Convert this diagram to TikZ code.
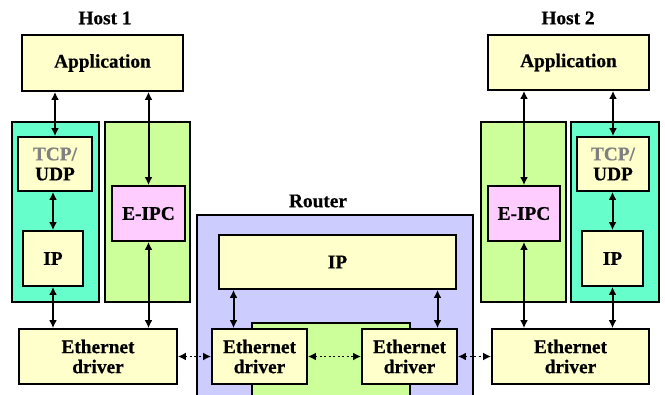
\documentclass[tikz,border=0pt]{standalone}
\usepackage{fontspec}
\newfontfamily\diagfont{Liberation Serif}[BoldFeatures={FakeBold=0.6}]
\usetikzlibrary{arrows.meta,calc}

\definecolor{boxyellow}{HTML}{FFFFCC}
\definecolor{boxteal}{HTML}{66FFCC}
\definecolor{boxgreen}{HTML}{CCFF99}
\definecolor{boxpink}{HTML}{FFCCFF}
\definecolor{boxrouter}{HTML}{CCCCFF}
\definecolor{tcpgray}{HTML}{808080}

\tikzset{
  layer/.style={draw, line width=1.4pt, fill=boxyellow, inner sep=0pt, align=center,
    font=\diagfont\fontsize{14.5}{15}\selectfont\bfseries},
  holder/.style={draw, line width=1.4pt, inner sep=0pt},
  title/.style={font=\diagfont\fontsize{14.5}{15}\selectfont\bfseries},
  link/.style={line width=1.5pt, {Latex[length=6pt,width=6pt]}-{Latex[length=6pt,width=6pt]}},
  wire/.style={line width=1.4pt, dotted, {Latex[length=6pt,width=6pt]}-{Latex[length=6pt,width=6pt]}}
}

\begin{document}
\begin{tikzpicture}[x=0.75pt, y=-0.75pt]
  \useasboundingbox (0,0) rectangle (665,394);
  \clip (0,0) rectangle (665,394);

  % titles
  \node[title] (h1) at (105,18) {Host 1};
  \node[title] (h2) at (568,18) {Host 2};
  \node[title] (rt) at (318,201) {Router};

  % containers
  \node[holder, fill=boxteal, minimum width=65.25pt, minimum height=135pt] (teal1) at (55.5,212) {};
  \node[holder, fill=boxgreen, minimum width=63.75pt, minimum height=135pt] (green1) at (147.5,212) {};
  \node[holder, fill=boxgreen, minimum width=63.75pt, minimum height=135pt] (green2) at (523.5,212) {};
  \node[holder, fill=boxteal, minimum width=66pt, minimum height=135pt] (teal2) at (615,212) {};
  \node[holder, fill=boxrouter, minimum width=207pt, minimum height=145pt] (router) at (335,311.5) {};
  \node[holder, fill=boxgreen, minimum width=118.5pt, minimum height=64pt] (rgreen) at (331,365.5) {};

  % host 1
  \node[layer, minimum width=120.75pt, minimum height=42pt] (app1) at (102.5,63) {Application};
  \node[layer, minimum width=55.5pt, minimum height=40.5pt] (tcp1) at (55,164) {{\color{tcpgray}TCP/}\\UDP};
  \node[layer, minimum width=45pt, minimum height=41.25pt] (ip1) at (53,258.5) {IP};
  \node[layer, fill=boxpink, minimum width=54.75pt, minimum height=41.25pt] (eipc1) at (148.5,213.5) {E-IPC};
  \node[layer, minimum width=118.5pt, minimum height=41.25pt] (eth1) at (98,356.5) {Ethernet\\driver};

  % router
  \node[layer, minimum width=177.75pt, minimum height=40.5pt] (rip) at (337.5,262) {IP};
  \node[layer, minimum width=71.25pt, minimum height=41.25pt] (reth1) at (259.5,356.5) {Ethernet\\driver};
  \node[layer, minimum width=71.25pt, minimum height=41.25pt] (reth2) at (409.5,356.5) {Ethernet\\driver};

  % host 2
  \node[layer, minimum width=120.75pt, minimum height=41.25pt] (app2) at (568.5,62.5) {Application};
  \node[layer, fill=boxpink, minimum width=54pt, minimum height=41.25pt] (eipc2) at (524,213.5) {E-IPC};
  \node[layer, minimum width=54pt, minimum height=40.5pt] (tcp2) at (613,164) {{\color{tcpgray}TCP/}\\UDP};
  \node[layer, minimum width=45.75pt, minimum height=41.25pt] (ip2) at (612.5,258.5) {IP};
  \node[layer, minimum width=117.75pt, minimum height=41.25pt] (eth2) at (570.5,356.5) {Ethernet\\driver};

  % host 1 links
  \draw[link] (app1.south -| tcp1.north) -- (tcp1.north);
  \draw[link] (tcp1.south -| ip1.north) -- (ip1.north);
  \draw[link] (ip1.south) -- (ip1.south |- eth1.north);
  \draw[link] (app1.south -| eipc1.north) -- (eipc1.north);
  \draw[link] (eipc1.south) -- (eipc1.south |- eth1.north);

  % router links
  \coordinate (rl) at ($(reth1.north)+(-26,0)$);
  \coordinate (rr) at ($(reth2.north)+(28,0)$);
  \draw[link] (rip.south -| rl) -- (rl);
  \draw[link] (rip.south -| rr) -- (rr);

  % host 2 links
  \draw[link] (app2.south -| eipc2.north) -- (eipc2.north);
  \draw[link] (eipc2.south) -- (eipc2.south |- eth2.north);
  \draw[link] (app2.south -| tcp2.north) -- (tcp2.north);
  \draw[link] (tcp2.south -| ip2.north) -- (ip2.north);
  \draw[link] (ip2.south) -- (ip2.south |- eth2.north);

  % wires
  \draw[wire] (eth1.east) -- (reth1.west);
  \draw[wire] (reth1.east) -- (reth2.west);
  \draw[wire] (reth2.east) -- (eth2.west);
\end{tikzpicture}
\end{document}
